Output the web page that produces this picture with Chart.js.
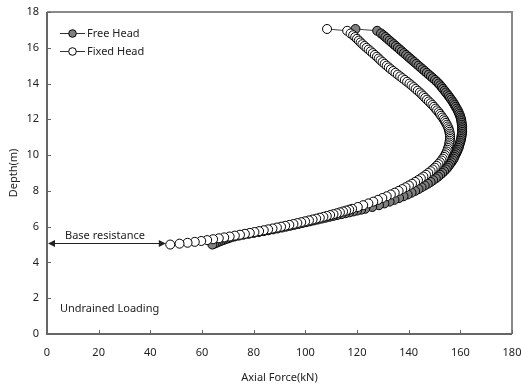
<!DOCTYPE html>
<html>
<head>
<meta charset="utf-8">
<title>Axial force vs depth</title>
<script src="https://cdn.jsdelivr.net/npm/chart.js@4.4.1/dist/chart.umd.min.js"></script>
<style>
  html, body { margin: 0; padding: 0; background: #fff; }
  #wrap { width: 521px; height: 387px; }
</style>
</head>
<body>
<div id="wrap"><canvas id="myChart" width="521" height="387"></canvas></div>
<script>
// depth (m) of each point, pile head first
var depth = [
  17.05, 16.95, 16.8, 16.7, 16.6, 16.5, 16.4, 16.3, 16.2, 16.1,
  16.0, 15.9, 15.8, 15.7, 15.6, 15.5, 15.4, 15.3, 15.2, 15.1,
  15.0, 14.9, 14.8, 14.7, 14.6, 14.5, 14.4, 14.3, 14.2, 14.1,
  14.0, 13.9, 13.8, 13.7, 13.6, 13.5, 13.4, 13.3, 13.2, 13.1,
  13.0, 12.9, 12.8, 12.7, 12.6, 12.5, 12.4, 12.3, 12.2, 12.1,
  12.0, 11.9, 11.8, 11.7, 11.6, 11.5, 11.4, 11.3, 11.2, 11.1,
  11.0, 10.9, 10.8, 10.7, 10.6, 10.5, 10.4, 10.3, 10.2, 10.1,
  10.0, 9.9, 9.8, 9.7, 9.6, 9.5, 9.4, 9.3, 9.2, 9.1,
  9.0, 8.9, 8.8, 8.7, 8.6, 8.5, 8.4, 8.3, 8.2, 8.1,
  8.0, 7.9, 7.8, 7.7, 7.6, 7.5, 7.4, 7.3, 7.2, 7.1,
  7.0, 6.95, 6.9, 6.85, 6.8, 6.75, 6.7, 6.65, 6.6, 6.55,
  6.5, 6.45, 6.4, 6.35, 6.3, 6.25, 6.2, 6.15, 6.1, 6.05,
  6.0, 5.95, 5.9, 5.85, 5.8, 5.75, 5.7, 5.65, 5.6, 5.55,
  5.5, 5.45, 5.4, 5.35, 5.3, 5.25, 5.2, 5.15, 5.1, 5.05,
  5.0
];

// axial force (kN)
var freeHead = [
  119.4, 127.8, 129.3, 130.2, 131, 131.8, 132.6, 133.4, 134.2, 135,
  135.8, 136.6, 137.4, 138.2, 139, 139.8, 140.6, 141.4, 142.2, 143,
  143.8, 144.6, 145.4, 146.2, 147, 147.8, 148.6, 149.4, 150.2, 150.9,
  151.6, 152.2, 152.8, 153.3, 153.9, 154.4, 155, 155.5, 156, 156.5,
  157, 157.4, 157.8, 158.2, 158.6, 159, 159.3, 159.6, 159.9, 160.1,
  160.3, 160.4, 160.5, 160.6, 160.7, 160.7, 160.7, 160.7, 160.6, 160.5,
  160.4, 160.3, 160.1, 159.9, 159.7, 159.5, 159.3, 159, 158.7, 158.4,
  158, 157.7, 157.4, 157, 156.5, 156, 155.5, 155, 154.4, 153.7,
  153, 152.2, 151.4, 150.5, 149.5, 148.5, 147.4, 146.2, 145, 143.8,
  142.5, 141.1, 139.6, 138, 136.3, 134.5, 132.6, 130.6, 128.5, 125.9,
  123.2, 121.6, 120, 118.5, 117, 115.5, 114, 112.3, 110.8, 109.3,
  107.8, 106.3, 104.8, 103.3, 101.8, 100.3, 98.8, 97.3, 95.7, 94.1,
  92.5, 90.9, 89.2, 87.5, 85.7, 83.9, 82, 80, 78, 76,
  74.2, 72.6, 71.2, 70.2, 69.2, 68.2, 67.3, 66.4, 65.6, 64.8,
  64
];

var fixedHead = [
  108.4, 116.2, 117.5, 118.5, 119.3, 120, 120.7, 121.4, 122.1, 122.9,
  123.7, 124.5, 125.3, 126.1, 126.9, 127.7, 128.4, 129.1, 129.9, 130.7,
  131.5, 132.3, 133.1, 134, 134.9, 135.8, 136.7, 137.6, 138.5, 139.4,
  140.3, 141.1, 141.9, 142.7, 143.5, 144.3, 145, 145.7, 146.4, 147.1,
  147.8, 148.5, 149.2, 149.8, 150.4, 151, 151.6, 152.1, 152.6, 153.1,
  153.6, 154, 154.4, 154.8, 155.1, 155.4, 155.6, 155.8, 155.9, 156,
  156, 156, 155.9, 155.8, 155.7, 155.5, 155.3, 155.1, 154.8, 154.5,
  154.1, 153.7, 153.2, 152.7, 152.1, 151.5, 150.8, 150.1, 149.3, 148.5,
  147.6, 146.7, 145.7, 144.7, 143.6, 142.5, 141.3, 140.1, 138.8, 137.5,
  136.1, 134.6, 133.1, 131.5, 129.8, 128.1, 126.3, 124.4, 122.4, 120.3,
  118.1, 117, 115.8, 114.6, 113.4, 112.2, 110.9, 109.6, 108.3, 107,
  105.6, 104.2, 102.8, 101.4, 99.9, 98.4, 96.9, 95.4, 93.8, 92.2,
  90.6, 89, 87.3, 85.6, 83.9, 82.1, 80.3, 78.5, 76.6, 74.7,
  72.7, 70.7, 68.6, 66.5, 64.3, 62, 59.7, 57.2, 54.4, 51.3,
  47.7
];

var seriesNames = ['Free Head', 'Fixed Head'];
var xMin = 0, xMax = 180, xStep = 20;
var yMin = 0, yMax = 18, yStep = 2;

// base resistance arrow: from x=0 to the pile tip load
var baseArrowEnd = 46;
var baseArrowDepth = 5.1;

Chart.defaults.font.family = "'Noto Sans', 'DejaVu Sans', sans-serif";
Chart.defaults.font.size = 11;
Chart.defaults.color = '#222';

function toPoints(xs) {
  return xs.map(function (v, i) { return { x: v, y: depth[i] }; });
}

// box, inward ticks, legend and notes
var decorPlugin = {
  id: 'decor',
  beforeDatasetsDraw: function (chart) {
    var ctx = chart.ctx, a = chart.chartArea;
    var xs = chart.scales.x, ys = chart.scales.y;
    ctx.save();
    ctx.strokeStyle = '#8a8a8a';
    ctx.lineWidth = 2;
    ctx.beginPath();
    ctx.moveTo(a.left, a.top);
    ctx.lineTo(a.right, a.top);
    ctx.lineTo(a.right, a.bottom);
    ctx.stroke();
    ctx.strokeStyle = '#666';
    ctx.beginPath();
    ctx.moveTo(a.left, a.top);
    ctx.lineTo(a.left, a.bottom);
    ctx.lineTo(a.right, a.bottom);
    ctx.stroke();
    ctx.lineWidth = 1;
    ctx.strokeStyle = '#666';
    ctx.beginPath();
    xs.ticks.forEach(function (t) {
      var px = Math.round(xs.getPixelForValue(t.value)) + 0.5;
      ctx.moveTo(px, a.bottom);
      ctx.lineTo(px, a.bottom - 4);
    });
    ys.ticks.forEach(function (t) {
      var py = Math.round(ys.getPixelForValue(t.value)) + 0.5;
      ctx.moveTo(a.left, py);
      ctx.lineTo(a.left + 4, py);
    });
    ctx.stroke();
    ctx.restore();
  },
  afterDraw: function (chart) {
    var ctx = chart.ctx, a = chart.chartArea;
    var xs = chart.scales.x, ys = chart.scales.y;
    ctx.save();
    ctx.font = "11px 'Noto Sans', 'DejaVu Sans', sans-serif";
    ctx.fillStyle = '#222';
    ctx.textBaseline = 'middle';

    // legend
    var fills = ['#808080', '#ffffff'];
    for (var i = 0; i < 2; i++) {
      var ly = a.top + 21 + i * 18;
      ctx.strokeStyle = '#333';
      ctx.lineWidth = 1;
      ctx.beginPath();
      ctx.moveTo(a.left + 13, ly + 0.5);
      ctx.lineTo(a.left + 38, ly + 0.5);
      ctx.stroke();
      ctx.beginPath();
      ctx.arc(a.left + 25.5, ly + 0.5, 3.8, 0, Math.PI * 2);
      ctx.fillStyle = fills[i];
      ctx.fill();
      ctx.strokeStyle = '#000';
      ctx.stroke();
      ctx.fillStyle = '#222';
      ctx.fillText(seriesNames[i], a.left + 40, ly + 1);
    }

    // base resistance arrow
    var x0 = xs.getPixelForValue(0), x1 = xs.getPixelForValue(baseArrowEnd);
    var yA = Math.round(ys.getPixelForValue(baseArrowDepth)) + 0.5;
    ctx.strokeStyle = '#222';
    ctx.lineWidth = 1;
    ctx.beginPath();
    ctx.moveTo(x0 + 4, yA);
    ctx.lineTo(x1 - 4, yA);
    ctx.stroke();
    ctx.fillStyle = '#222';
    ctx.beginPath();
    ctx.moveTo(x0 + 1, yA);
    ctx.lineTo(x0 + 8, yA - 3.5);
    ctx.lineTo(x0 + 8, yA + 3.5);
    ctx.closePath();
    ctx.fill();
    ctx.beginPath();
    ctx.moveTo(x1, yA);
    ctx.lineTo(x1 - 7, yA - 3.5);
    ctx.lineTo(x1 - 7, yA + 3.5);
    ctx.closePath();
    ctx.fill();
    ctx.fillText('Base resistance', x0 + 18, yA - 8);

    ctx.fillText('Undrained Loading', xs.getPixelForValue(5), ys.getPixelForValue(1.4));
    ctx.restore();
  }
};

var ctx = document.getElementById('myChart').getContext('2d');

var myChart = new Chart(ctx, {
  type: 'scatter',
  data: {
    datasets: [{
      label: seriesNames[0],
      data: toPoints(freeHead),
      showLine: true,
      borderColor: '#444',
      borderWidth: 1,
      pointRadius: 4.5,
      pointBorderWidth: 1,
      pointBorderColor: '#000',
      pointBackgroundColor: '#808080',
      order: 1
    }, {
      label: seriesNames[1],
      data: toPoints(fixedHead),
      showLine: true,
      borderColor: '#444',
      borderWidth: 1,
      pointRadius: 4.5,
      pointBorderWidth: 1,
      pointBorderColor: '#000',
      pointBackgroundColor: '#ffffff',
      order: 0
    }]
  },
  options: {
    responsive: false,
    animation: false,
    events: [],
    layout: { padding: { top: 12, right: 9, left: 0, bottom: 0 } },
    plugins: {
      legend: { display: false },
      tooltip: { enabled: false }
    },
    scales: {
      x: {
        type: 'linear',
        min: xMin,
        max: xMax,
        ticks: { stepSize: xStep, padding: 12, color: '#222' },
        grid: { display: false, drawTicks: false },
        border: { display: false },
        title: { display: true, text: 'Axial Force(kN)', color: '#222', padding: { top: 0, bottom: 3 } },
        afterFit: function (s) { s.height = 53; s.paddingLeft = 0; s.paddingRight = 0; }
      },
      y: {
        type: 'linear',
        min: yMin,
        max: yMax,
        ticks: { stepSize: yStep, padding: 8, color: '#222' },
        grid: { display: false, drawTicks: false },
        border: { display: false },
        title: { display: true, text: 'Depth(m)', color: '#222', padding: { top: 7, bottom: 0 } },
        afterFit: function (s) { s.width = 47; s.paddingTop = 0; s.paddingBottom = 0; }
      }
    }
  },
  plugins: [decorPlugin]
});
</script>
</body>
</html>
